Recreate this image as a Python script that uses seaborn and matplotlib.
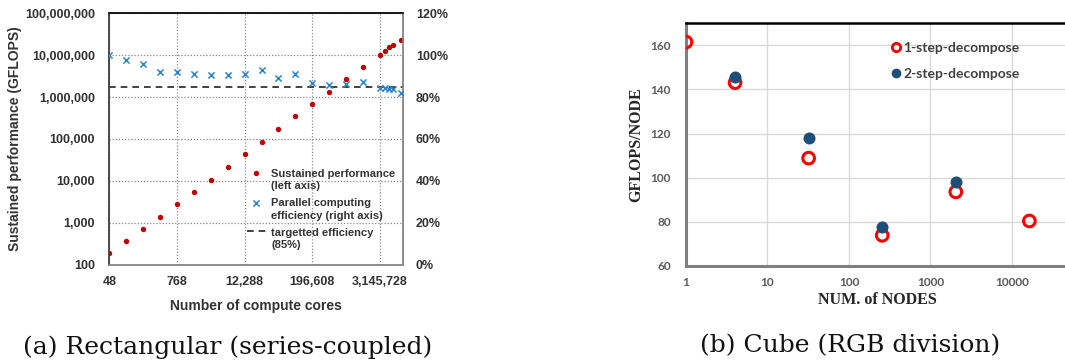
import numpy as np
import pandas as pd
import matplotlib
matplotlib.use("Agg")
import matplotlib.pyplot as plt
from matplotlib.lines import Line2D
from matplotlib.collections import PathCollection
from matplotlib.legend_handler import HandlerPathCollection, HandlerLine2D
from matplotlib.ticker import FixedLocator, FixedFormatter, NullLocator
import seaborn as sns

# ---------------- data: (a) rectangular ----------------
cores = [48, 96, 192, 384, 768, 1536, 3072, 6144, 12288, 24576, 49152, 98304,
         196608, 393216, 786432, 1572864, 3145728, 3860000, 4600000, 5420000, 7340000]
perf_gflops = [191, 358, 705, 1365, 2740, 5400, 10600, 21300, 42900, 85700, 169000,
               347000, 671000, 1300000, 2650000, 5100000, 9930000, 12600000,
               15400000, 17200000, 23000000]
efficiency_pct = [100.0, 97.7, 95.8, 92.1, 92.1, 90.9, 90.4, 90.4, 91.0, 92.8, 89.2,
                  91.0, 86.6, 85.7, 86.2, 87.2, 84.3, 84.1, 83.8, 83.6, 81.8]
target_eff = 85
core_ticks = [48, 768, 12288, 196608, 3145728]
core_tick_labels = ["48", "768", "12,288", "196,608", "3,145,728"]
perf_ticks = [1e2, 1e3, 1e4, 1e5, 1e6, 1e7, 1e8]
perf_tick_labels = ["100", "1,000", "10,000", "100,000", "1,000,000",
                    "10,000,000", "100,000,000"]
eff_ticks = [0, 20, 40, 60, 80, 100, 120]
eff_tick_labels = ["0%", "20%", "40%", "60%", "80%", "100%", "120%"]

# ---------------- data: (b) cube ----------------
nodes_1step = [1, 4, 32, 256, 2048, 16384]
gflops_1step = [161.5, 143.1, 108.9, 73.9, 93.6, 80.4]
nodes_2step = [4, 32, 256, 2048]
gflops_2step = [145.8, 118.2, 77.5, 98.2]
node_ticks = [1, 10, 100, 1000, 10000]
node_tick_labels = ["1", "10", "100", "1000", "10000"]
gpn_ticks = [60, 80, 100, 120, 140, 160]

df_a = pd.DataFrame({"cores": cores, "perf": perf_gflops, "eff": efficiency_pct})
df_b1 = pd.DataFrame({"nodes": nodes_1step, "gflops": gflops_1step})
df_b2 = pd.DataFrame({"nodes": nodes_2step, "gflops": gflops_2step})

sns.set_theme(style="white")
plt.rcParams["font.family"] = ["Liberation Sans", "DejaVu Sans"]

W, H = 1065, 360
fig = plt.figure(figsize=(W / 100, H / 100), dpi=100)

def px_axes(x0, y0, x1, y1):
    return fig.add_axes([x0 / W, 1 - y1 / H, (x1 - x0) / W, (y1 - y0) / H])

# legend handlers that put the marker next to the first line of a 2-line label
SHIFT_PT = 5.8

class FirstLineScatter(HandlerPathCollection):
    def create_artists(self, legend, orig_handle, xdescent, ydescent, width, height, fontsize, trans):
        arts = super().create_artists(legend, orig_handle, xdescent, ydescent, width, height, fontsize, trans)
        for a in arts:
            a.set_offsets(np.asarray(a.get_offsets()) + np.array([0, SHIFT_PT]))
        return arts

class FirstLineLine(HandlerLine2D):
    def create_artists(self, legend, orig_handle, xdescent, ydescent, width, height, fontsize, trans):
        arts = super().create_artists(legend, orig_handle, xdescent, ydescent, width, height, fontsize, trans)
        for a in arts:
            a.set_ydata(np.asarray(a.get_ydata()) + SHIFT_PT)
        return arts

# ================= (a) =================
RED_A = "#C00000"
BLUE_A = "#2E86C8"
TXT_A = "#333333"
ax = px_axes(109.3, 13.3, 402.7, 264.5)
ax2 = ax.twinx()

sns.scatterplot(data=df_a, x="cores", y="perf", ax=ax, color=RED_A, s=15,
                linewidth=0, label="Sustained performance\n(left axis)", legend=False, zorder=3)
sns.scatterplot(data=df_a, x="cores", y="eff", ax=ax2, color=BLUE_A, marker="x", s=20,
                linewidth=1.1, label="Parallel computing\nefficiency (right axis)", legend=False, zorder=3)
tline = ax2.axhline(target_eff, color="#222222", lw=1.2, ls=(0, (4, 3)), zorder=2,
                    label="targetted efficiency\n(85%)")

ax.set_xscale("log", base=2)
ax.set_yscale("log")
ax.set_xlim(48, 7.97e6)
ax.set_ylim(100, 1e8)
ax2.set_ylim(0, 120)
ax.xaxis.set_major_locator(FixedLocator(core_ticks))
ax.xaxis.set_major_formatter(FixedFormatter(core_tick_labels))
ax.xaxis.set_minor_locator(NullLocator())
ax.yaxis.set_major_locator(FixedLocator(perf_ticks))
ax.yaxis.set_major_formatter(FixedFormatter(perf_tick_labels))
ax.yaxis.set_minor_locator(NullLocator())
ax2.yaxis.set_major_locator(FixedLocator(eff_ticks))
ax2.yaxis.set_major_formatter(FixedFormatter(eff_tick_labels))

ax.grid(True, which="major", color="#8a8a8a", ls=(0, (1, 1.5)), lw=0.9)
ax2.grid(False)
ax.set_axisbelow(True)
for a in (ax, ax2):
    a.tick_params(length=0, labelsize=9, labelcolor=TXT_A)
    for lab in a.get_xticklabels() + a.get_yticklabels():
        lab.set_fontweight("bold")
ax.tick_params(axis="x", pad=8)
ax.tick_params(axis="y", pad=10.3)
ax2.tick_params(axis="y", pad=9.5)
ax.set_xlabel("Number of compute cores", fontsize=10, fontweight="bold", color=TXT_A, labelpad=8)
ax.set_ylabel("Sustained performance (GFLOPS)", fontsize=10, fontweight="bold", color=TXT_A, labelpad=2)
ax2.set_ylabel("")
for a in (ax, ax2):
    a.spines["top"].set_color("#111111")
    a.spines["left"].set_color("#444444")
    a.spines["right"].set_color("#8a8a8a")
    a.spines["bottom"].set_color("#8a8a8a")
    for s in a.spines.values():
        s.set_linewidth(1.1)

h1 = ax.collections[0]
h2 = ax2.collections[0]
leg = ax2.legend(handles=[h1, h2, tline],
                 labels=[h1.get_label(), h2.get_label(), tline.get_label()],
                 handler_map={PathCollection: FirstLineScatter(), Line2D: FirstLineLine()},
                 loc="upper left", bbox_to_anchor=(0.47, 0.381), frameon=False,
                 prop={"size": 8, "weight": "bold"},
                 handlelength=1.65, handletextpad=0.5, labelspacing=0.65,
                 borderaxespad=0, borderpad=0)
for t in leg.get_texts():
    t.set_color(TXT_A)
    t.set_linespacing(1.3)

# ================= (b) =================
RED_B = "#FF0000"
BLUE_B = "#1F4E79"
TXT_B = "#595959"
bx = px_axes(686, 23.3, 1093.4, 266)
sns.scatterplot(data=df_b1, x="nodes", y="gflops", ax=bx, s=70, zorder=3, legend=False)
pts1 = bx.collections[-1]
pts1.set_facecolor("none")
pts1.set_edgecolor(RED_B)
pts1.set_linewidth(2.2)
sns.scatterplot(data=df_b2, x="nodes", y="gflops", ax=bx, s=75, color=BLUE_B,
                linewidth=0, zorder=4, legend=False)

bx.set_xscale("log")
bx.set_xlim(1, 1e5)
bx.set_ylim(60, 170)
bx.xaxis.set_major_locator(FixedLocator(node_ticks))
bx.xaxis.set_major_formatter(FixedFormatter(node_tick_labels))
bx.xaxis.set_minor_locator(NullLocator())
bx.yaxis.set_major_locator(FixedLocator(gpn_ticks))
bx.grid(True, color="#d9d9d9", lw=1.0)
bx.set_axisbelow(True)
bx.tick_params(length=0, labelsize=8.5, labelcolor=TXT_B)
bx.tick_params(axis="x", pad=8)
bx.tick_params(axis="y", pad=11)
for lab in bx.get_xticklabels() + bx.get_yticklabels():
    lab.set_fontweight("bold")
    lab.set_family(["Lato", "DejaVu Sans"])
bx.spines["right"].set_visible(False)
bx.spines["top"].set_color("#000000")
bx.spines["top"].set_linewidth(1.8)
for sp in ("left", "bottom"):
    bx.spines[sp].set_color("#7f7f7f")
    bx.spines[sp].set_linewidth(2.2)
bx.set_xlabel("NUM. of NODES", fontsize=11.5, fontweight="bold",
              family=["Liberation Serif", "DejaVu Serif"], color="#262626")
bx.xaxis.set_label_coords((877 - 686) / (1093.4 - 686), -0.108)
bx.set_ylabel("GFLOPS/NODE", fontsize=11.5, fontweight="bold",
              family=["Liberation Serif", "DejaVu Serif"], color="#262626", labelpad=4)

hb1 = Line2D([], [], ls="none", marker="o", ms=6, mfc="none", mec=RED_B, mew=2.0)
hb2 = Line2D([], [], ls="none", marker="o", ms=7, mfc=BLUE_B, mec=BLUE_B, mew=0)
legb = bx.legend(handles=[hb1, hb2], labels=["1-step-decompose", "2-step-decompose"],
                 loc="upper left", bbox_to_anchor=((890 - 686) / (1093.4 - 686), 0.9235),
                 frameon=False, handlelength=0.8, handletextpad=0.15, labelspacing=1.0,
                 borderaxespad=0, borderpad=0,
                 prop={"family": ["Lato", "DejaVu Sans"], "weight": "bold", "size": 10})
for t in legb.get_texts():
    t.set_color("#404040")

# ================= captions =================
cap_font = dict(fontsize=18, family=["DejaVu Serif"], color="#111111", va="center", ha="center")
fig.text(228 / W, 1 - 347 / H, "(a) Rectangular (series-coupled)", **cap_font)
fig.text(850 / W, 1 - 346 / H, "(b) Cube (RGB division)", **cap_font)

fig.savefig("out.png", dpi=100)
